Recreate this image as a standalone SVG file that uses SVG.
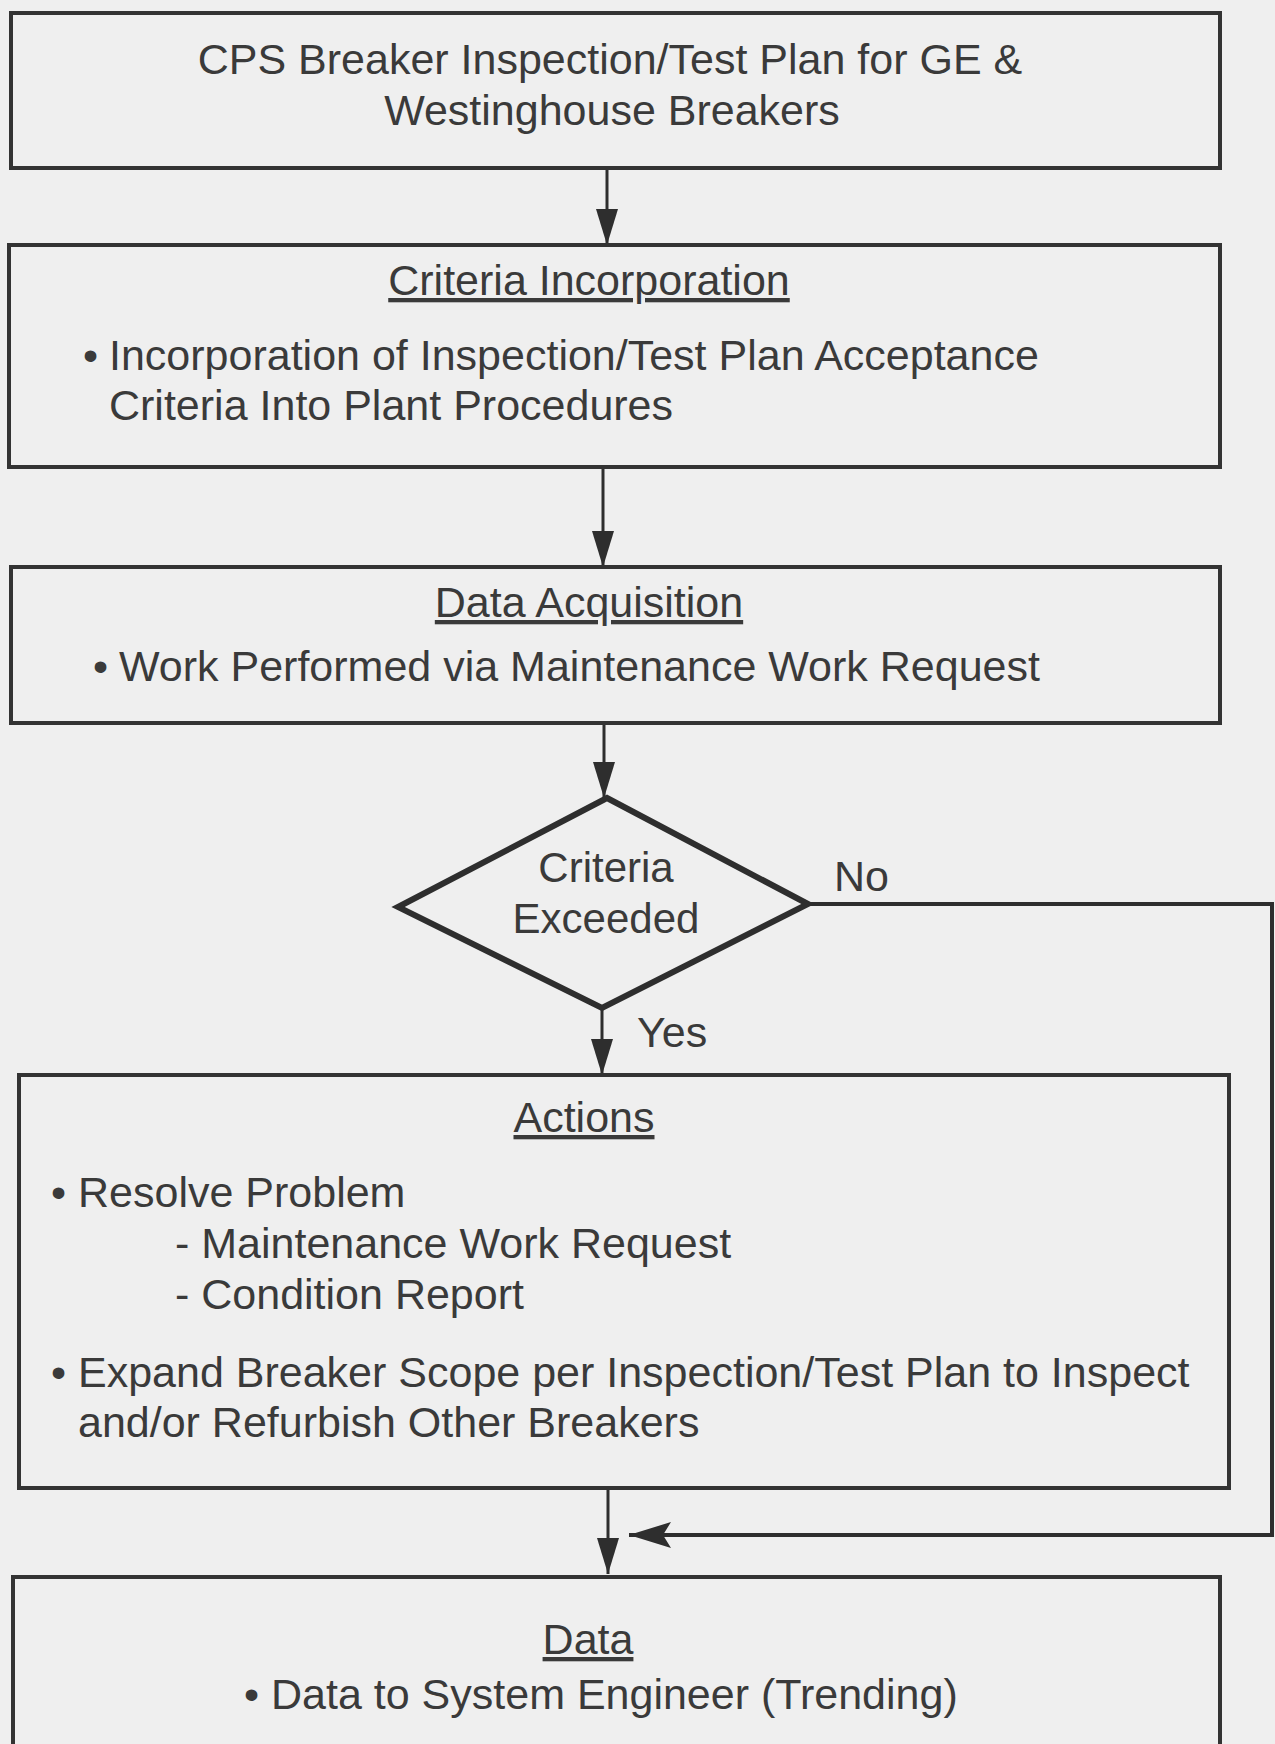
<svg xmlns="http://www.w3.org/2000/svg" width="1275" height="1744" viewBox="0 0 1275 1744">
<defs>
<style>
.box{fill:none;stroke:#333;stroke-width:4}
.dia{fill:none;stroke:#2e2e2e;stroke-width:6;stroke-linejoin:miter}
.t{font-family:"Liberation Sans",Arial,Helvetica,sans-serif;font-size:43px;fill:#3a3a3a}
.c{text-anchor:middle}
.u{text-decoration:underline}
.con{fill:none;stroke:#2e2e2e;stroke-width:3}
.no{fill:none;stroke:#2e2e2e;stroke-width:4}
</style>
<marker id="ah" markerUnits="userSpaceOnUse" viewBox="0 0 36 22" markerWidth="36" markerHeight="22" refX="36" refY="11" orient="auto">
<path d="M0,0 L36,11 L0,22 z" fill="#2e2e2e"/>
</marker>
<marker id="ah2" markerUnits="userSpaceOnUse" viewBox="0 0 42 26" markerWidth="42" markerHeight="26" refX="42" refY="13" orient="auto">
<path d="M0,0 L42,13 L0,26 L8,13 z" fill="#2e2e2e"/>
</marker>
</defs>
<rect width="1275" height="1744" fill="#efefef"/>

<g id="connectors">
<line class="con" x1="607" y1="168" x2="607" y2="245" marker-end="url(#ah)"/>
<line class="con" x1="603" y1="467" x2="603" y2="567" marker-end="url(#ah)"/>
<line class="con" x1="604" y1="723" x2="604" y2="798" marker-end="url(#ah)"/>
<line class="con" x1="602" y1="1008" x2="602" y2="1075" marker-end="url(#ah)"/>
<line class="con" x1="608" y1="1488" x2="608" y2="1574" marker-end="url(#ah)"/>
<polyline class="no" points="808,904 1272,904 1272,1535 629,1535" marker-end="url(#ah2)"/>
<text class="t" x="834" y="891">No</text>
<text class="t" x="637" y="1047">Yes</text>
</g>

<g id="plan">
<rect class="box" x="11" y="13" width="1209" height="155"/>
<text class="t c" x="610" y="74">CPS Breaker Inspection/Test Plan for GE &amp;</text>
<text class="t c" x="612" y="125">Westinghouse Breakers</text>
</g>

<g id="criteria-incorporation">
<rect class="box" x="9" y="245" width="1211" height="222"/>
<text class="t c u" x="589" y="295">Criteria Incorporation</text>
<text class="t" x="83" y="370">•</text>
<text class="t" x="109" y="370">Incorporation of Inspection/Test Plan Acceptance</text>
<text class="t" x="109" y="420">Criteria Into Plant Procedures</text>
</g>

<g id="data-acquisition">
<rect class="box" x="11" y="567" width="1209" height="156"/>
<text class="t c u" x="589" y="617">Data Acquisition</text>
<text class="t" x="93" y="681">•</text>
<text class="t" x="119" y="681">Work Performed via Maintenance Work Request</text>
</g>

<g id="criteria-exceeded">
<polygon class="dia" points="607,798 808,904 602,1008 398,907"/>
<text class="t c" x="606" y="882" style="font-size:42px">Criteria</text>
<text class="t c" x="606" y="933" style="font-size:42px">Exceeded</text>
</g>

<g id="actions">
<rect class="box" x="19" y="1075" width="1210" height="413"/>
<text class="t c u" x="584" y="1132">Actions</text>
<text class="t" x="51" y="1207">•</text>
<text class="t" x="78" y="1207">Resolve Problem</text>
<text class="t" x="175" y="1258">- Maintenance Work Request</text>
<text class="t" x="175" y="1309">- Condition Report</text>
<text class="t" x="51" y="1387">•</text>
<text class="t" x="78" y="1387">Expand Breaker Scope per Inspection/Test Plan to Inspect</text>
<text class="t" x="78" y="1437">and/or Refurbish Other Breakers</text>
</g>

<g id="data">
<rect class="box" x="13" y="1577" width="1207" height="200"/>
<text class="t c u" x="588" y="1654">Data</text>
<text class="t" x="244" y="1709">•</text>
<text class="t" x="271" y="1709">Data to System Engineer (Trending)</text>
</g>
</svg>
